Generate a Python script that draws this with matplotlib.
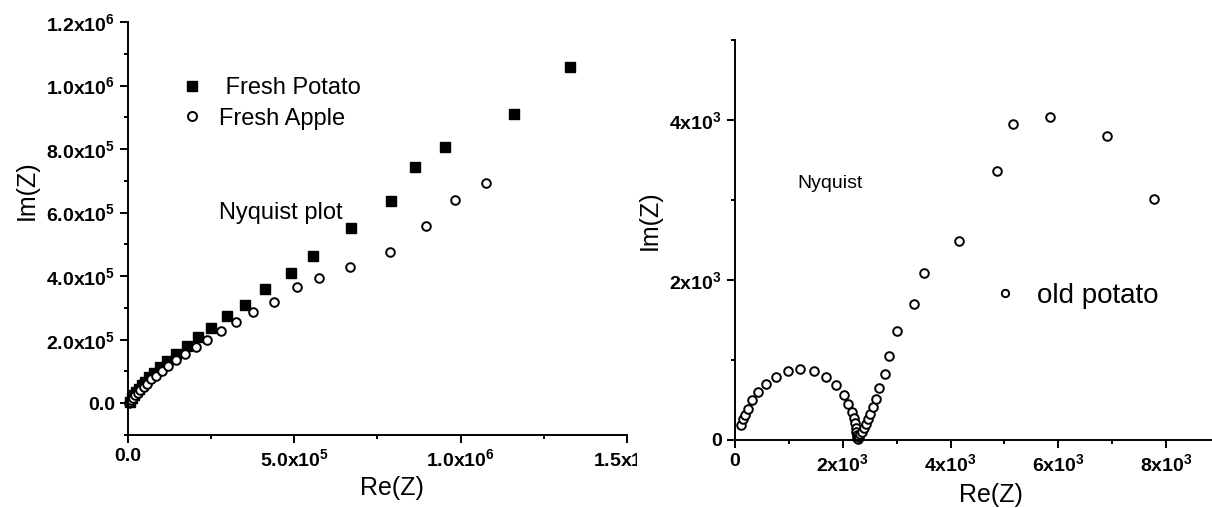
import numpy as np
import matplotlib
matplotlib.use("Agg")
import matplotlib.pyplot as plt
from matplotlib import font_manager
from matplotlib.transforms import Bbox, TransformedBbox

# Nyquist data (ohm)
potato_re = [6e3, 12.5e3, 18.5e3, 26e3, 33e3, 42e3, 52e3, 64e3, 80e3, 98e3,
             119e3, 146e3, 177e3, 211e3, 251e3, 299e3, 353e3, 413e3, 489e3, 556e3,
             671e3, 791e3, 863e3, 953e3, 1159e3, 1330e3]
potato_im = [5e3, 15e3, 25e3, 36e3, 46e3, 57e3, 67e3, 81e3, 95e3, 114e3,
             132e3, 156e3, 180e3, 207e3, 237e3, 275e3, 308e3, 361e3, 411e3, 463e3,
             550e3, 635e3, 743e3, 806e3, 911e3, 1058e3]

apple_re = [3e3, 5.5e3, 10.5e3, 16.5e3, 22.6e3, 30e3, 38e3, 48e3, 58e3, 70e3,
            85e3, 102e3, 120e3, 145e3, 173e3, 205e3, 238e3, 280e3, 324e3, 377e3,
            439e3, 508e3, 575e3, 668e3, 787e3, 897e3, 983e3, 1075e3]
apple_im = [0, 4e3, 10e3, 18e3, 25e3, 33e3, 41e3, 51e3, 62e3, 75e3,
            87e3, 102e3, 116e3, 135e3, 154e3, 177e3, 200e3, 227e3, 255e3, 287e3,
            319e3, 365e3, 394e3, 430e3, 476e3, 558e3, 641e3, 693e3]

old_re = [115, 143, 183, 238, 319, 428, 577, 761, 978, 1216,
          1460, 1684, 1874, 2024, 2105, 2173, 2207, 2228, 2241, 2255,
          2261, 2268, 2282, 2295, 2323, 2357, 2390, 2431, 2472, 2513,
          2567, 2621, 2682, 2778, 2866, 3015, 3314, 3511, 4149, 4856,
          5155, 5854, 6900, 7776]
old_im = [187, 258, 313, 392, 496, 596, 700, 792, 858, 883,
          858, 783, 683, 558, 450, 346, 271, 208, 154, 104,
          62, 29, 8, 42, 71, 104, 150, 200, 258, 325,
          408, 512, 650, 829, 1050, 1367, 1696, 2083, 2487, 3358,
          3954, 4037, 3796, 3017]

left_xticks = [0, 5e5, 1e6, 1.5e6]
left_xlabels = ["0.0", "$5.0x10^{5}$", "$1.0x10^{6}$", "$1.5x10^{6}$"]
left_yticks = [0, 2e5, 4e5, 6e5, 8e5, 1e6, 1.2e6]
left_ylabels = ["0.0", "$2.0x10^{5}$", "$4.0x10^{5}$", "$6.0x10^{5}$",
                "$8.0x10^{5}$", "$1.0x10^{6}$", "$1.2x10^{6}$"]
right_xticks = [0, 2e3, 4e3, 6e3, 8e3]
right_xlabels = ["0", "$2x10^{3}$", "$4x10^{3}$", "$6x10^{3}$", "$8x10^{3}$"]
right_yticks = [0, 2e3, 4e3]
right_ylabels = ["0", "$2x10^{3}$", "$4x10^{3}$"]

names = {f.name for f in font_manager.fontManager.ttflist}
text_font = "Liberation Sans"
tick_font = "Liberation Sans Narrow" if "Liberation Sans Narrow" in names else "Liberation Sans"

plt.rcParams["font.family"] = [text_font, "DejaVu Sans"]
plt.rcParams["mathtext.default"] = "regular"

fig = plt.figure(figsize=(12.12, 5.08), dpi=100)
ax1 = fig.add_axes([0.1054, 0.1437, 0.412, 0.813])
ax2 = fig.add_axes([0.6064, 0.1339, 0.4002, 0.7874])


def style_axis(ax):
    for side in ("top", "right"):
        ax.spines[side].set_visible(False)
    for side in ("left", "bottom"):
        ax.spines[side].set_linewidth(1.4)
    ax.tick_params(which="major", direction="out", length=5.8, width=1.4)
    ax.tick_params(which="minor", direction="out", length=2.9, width=1.4)
    for lab in ax.get_xticklabels() + ax.get_yticklabels():
        lab.set_fontfamily(tick_font)
        lab.set_fontweight("bold")
        lab.set_fontsize(14)


# ---- left panel: fresh potato / fresh apple
ax1.plot(potato_re, potato_im, ls="none", marker="s", ms=6.8, color="black",
         label=" Fresh Potato", clip_on=False)
ax1.plot(apple_re, apple_im, ls="none", marker="o", ms=6.2, mew=1.4,
         mfc="white", mec="black", label="Fresh Apple", clip_on=False)
ax1.set_xlim(0, 1.5e6)
ax1.set_ylim(-1e5, 1.2e6)
ax1.set_xticks(left_xticks, left_xlabels)
ax1.set_yticks(left_yticks, left_ylabels)
ax1.set_xticks(np.arange(0, 1.5e6 + 1, 2.5e5), minor=True)
ax1.set_yticks(np.arange(-1e5, 1.2e6 + 1, 1e5), minor=True)
style_axis(ax1)
ax1.set_xlabel("Re(Z)", fontsize=18, va="center")
ax1.set_ylabel("Im(Z)", fontsize=18, va="center")
ax1.xaxis.set_label_coords(0.529, -0.128)
ax1.yaxis.set_label_coords(-0.203, 0.593)
ax1.text(0.183, 0.5375, "Nyquist plot", transform=ax1.transAxes,
         fontsize=17, ha="left", va="center")
ax1.legend(loc="upper left", bbox_to_anchor=(0.1047, 0.866), frameon=False,
           fontsize=17, borderpad=0, handlelength=1, handletextpad=0.64,
           labelspacing=0.35, borderaxespad=0, markerscale=1.05)

# the 1.5x10^6 label is cut off where the right panel starts
clip = TransformedBbox(Bbox([[0, 0], [637 / 1212, 1]]), fig.transFigure)
for tick in ax1.xaxis.get_major_ticks():
    tick.label1.set_clip_on(True)
    tick.label1.set_clip_box(clip)

# ---- right panel: old potato
ax2.plot(old_re, old_im, ls="none", marker="o", ms=6.2, mew=1.4,
         mfc="white", mec="black", label="old potato", clip_on=False)
ax2.set_xlim(0, 9000)
ax2.set_ylim(0, 5000)
ax2.set_xticks(right_xticks, right_xlabels)
ax2.set_yticks(right_yticks, right_ylabels)
ax2.set_xticks(np.arange(1e3, 9e3 + 1, 2e3), minor=True)
ax2.set_yticks(np.arange(1e3, 5e3 + 1, 2e3), minor=True)
style_axis(ax2)
ax2.set_xlabel("Re(Z)", fontsize=18, va="center")
ax2.set_ylabel("Im(Z)", fontsize=18, va="center")
ax2.xaxis.set_label_coords(0.528, -0.1375)
ax2.yaxis.set_label_coords(-0.175, 0.55)
ax2.text(0.128, 0.64, "Nyquist", transform=ax2.transAxes,
         fontsize=14, ha="left", va="center")
ax2.legend(loc="upper left", bbox_to_anchor=(0.528, 0.393), frameon=False,
           fontsize=20, borderpad=0, handlelength=1, handletextpad=0.65,
           borderaxespad=0, markerscale=0.85)

fig.savefig("out.png", dpi=100)
